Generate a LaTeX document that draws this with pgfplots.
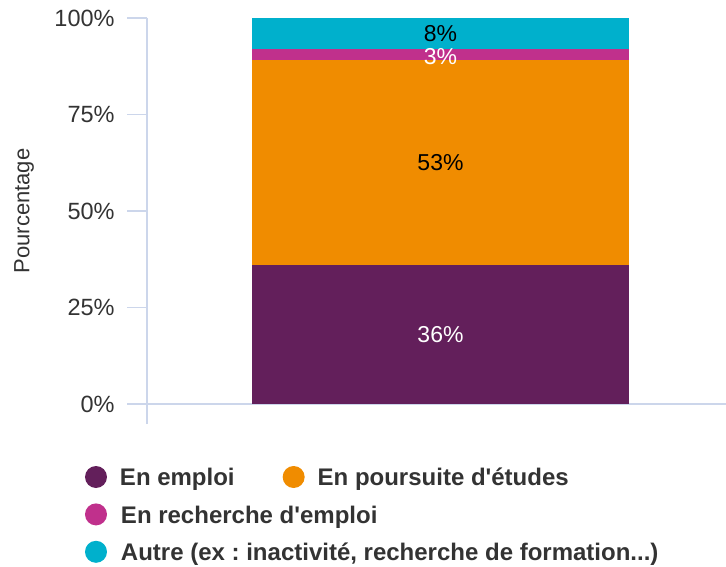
\documentclass[border=0pt]{standalone}
\usepackage{pgfplots}
\pgfplotsset{compat=1.18}
\usepackage{fontspec}
\setmainfont{Liberation Sans}
\frenchspacing
\definecolor{emploi}{HTML}{631F5B}
\definecolor{poursuite}{HTML}{F08C00}
\definecolor{recherche}{HTML}{C0308C}
\definecolor{autre}{HTML}{00B0CC}
\definecolor{axiscol}{HTML}{CCD6EB}
\definecolor{textcol}{HTML}{333333}
\begin{document}
\begin{tikzpicture}
\begin{axis}[
  name=ax, scale only axis, width=289.5pt, height=193pt,
  xmin=147, xmax=726, ymin=0, ymax=100,
  ybar stacked, bar width=377,
  axis x line*=bottom, axis y line*=left,
  axis line style={draw=axiscol, line width=0.6pt},
  tick align=outside, major tick length=10pt,
  tick style={draw=axiscol, line width=0.6pt},
  ytick={0,25,50,75,100}, yticklabels={0\%,25\%,50\%,75\%,100\%},
  xtick={147}, xticklabels={},
  tick label style={font=\fontsize{11.75}{14}\selectfont, text=textcol},
  yticklabel style={inner sep=0pt, xshift=-6pt},
  ylabel={Pourcentage},
  every axis y label/.style={at={(axis description cs:-0.2124,0.5)}, rotate=90, anchor=center, font=\fontsize{11}{13}\selectfont, text=textcol},
  legend columns=2,
  legend cell align=left,
  legend style={at={(axis description cs:0,0)}, anchor=north west, xshift=-31pt, yshift=-31pt,
    draw=none, fill=none, inner sep=0pt, outer sep=0pt, row sep=6.25pt,
    font=\bfseries\fontsize{12}{14}\selectfont, text=textcol,
    nodes={inner sep=0pt, text height=9pt, text depth=2.5pt},
    /tikz/every odd column/.append style={column sep=6.5pt},
    /tikz/every even column/.append style={column sep=24pt}},
  nodes near coords style={font=\fontsize{11.5}{14}\selectfont, anchor=center},
]
\addplot[fill=emploi, draw=none, nodes near coords, point meta=explicit symbolic,
  every node near coord/.append style={anchor=center, text=white},
  legend image code/.code={\fill[emploi] (5.5pt,1.2pt) circle (5.5pt);}]
  coordinates {(440.5,36) [36\%]};
\addlegendentry{En emploi}
\addplot[fill=poursuite, draw=none, nodes near coords, point meta=explicit symbolic,
  every node near coord/.append style={anchor=center, text=black},
  legend image code/.code={\fill[poursuite] (5.5pt,1.2pt) circle (5.5pt);}]
  coordinates {(440.5,53) [53\%]};
\addlegendentry{En poursuite d\textquotesingle études}
\addplot[fill=recherche, draw=none, nodes near coords, point meta=explicit symbolic,
  every node near coord/.append style={anchor=center, yshift=-1pt, text=white},
  legend image code/.code={\fill[recherche] (5.5pt,1.2pt) circle (5.5pt);}]
  coordinates {(440.5,3) [3\%]};
\addlegendentry{\makebox[0pt][l]{En recherche d\textquotesingle emploi}}
\addlegendimage{empty legend}
\addlegendentry{}
\addplot[fill=autre, draw=none, nodes near coords, point meta=explicit symbolic,
  every node near coord/.append style={anchor=center, text=black},
  legend image code/.code={\fill[autre] (5.5pt,1.2pt) circle (5.5pt);}]
  coordinates {(440.5,8) [8\%]};
\addlegendentry{\makebox[0pt][l]{Autre (ex : inactivité, recherche de formation...)}}
\end{axis}
\pgfresetboundingbox
\useasboundingbox ([shift={(-73.5pt,-81pt)}]ax.south west) rectangle ([shift={(0pt,9pt)}]ax.north east);
\end{tikzpicture}
\end{document}
